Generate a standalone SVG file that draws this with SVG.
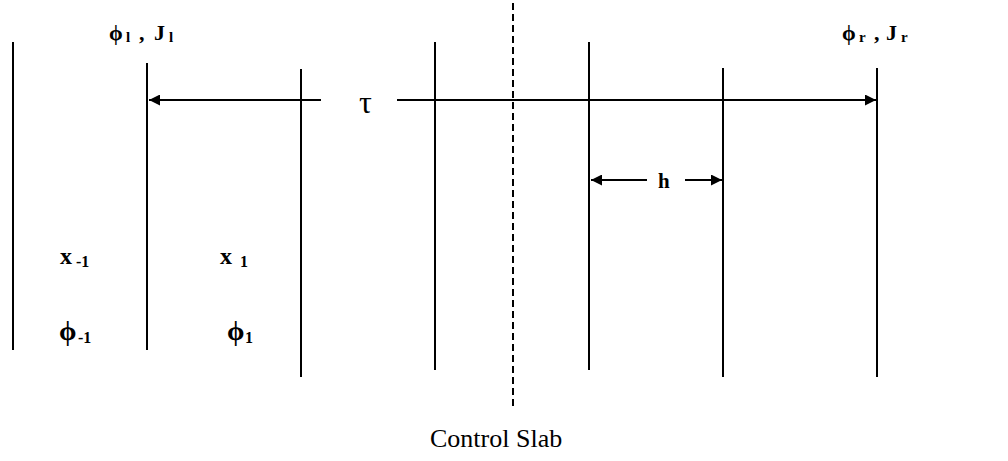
<svg xmlns="http://www.w3.org/2000/svg" width="1008" height="461" viewBox="0 0 1008 461">
<style>
.ln{stroke:#000;stroke-width:2;fill:none}
.ds{stroke:#000;stroke-width:2;stroke-dasharray:7,4;fill:none}
.t{font-family:"Liberation Serif","Times New Roman",serif;fill:#000}
.b{font-weight:bold}
.top{font-size:22px}
.sub{font-size:15px;font-weight:bold}
.lo{font-size:24px}
.phi{font-size:28px}
.sub2{font-size:16px;font-weight:bold}
</style>
<defs>
<marker id="ah" viewBox="0 0 11 11" refX="11" refY="5.5" markerWidth="11" markerHeight="11" markerUnits="userSpaceOnUse" orient="auto-start-reverse">
<path d="M0,0 L11,5.5 L0,11 z" fill="#000"/>
</marker>
</defs>
<g id="planes">
<line class="ln" x1="13" y1="42" x2="13" y2="350"/>
<line class="ln" x1="147" y1="63" x2="147" y2="350"/>
<line class="ln" x1="301" y1="69" x2="301" y2="377"/>
<line class="ln" x1="435" y1="42" x2="435" y2="370"/>
<line class="ln" x1="589" y1="42" x2="589" y2="370"/>
<line class="ln" x1="723" y1="68" x2="723" y2="377"/>
<line class="ln" x1="877" y1="68" x2="877" y2="377"/>
<line class="ds" x1="513" y1="3" x2="513" y2="408"/>
</g>
<g id="connectors">
<line class="ln" x1="321" y1="100" x2="149" y2="100" marker-end="url(#ah)"/>
<line class="ln" x1="397" y1="100" x2="876" y2="100" marker-end="url(#ah)"/>
<line class="ln" x1="647" y1="180" x2="591" y2="180" marker-end="url(#ah)"/>
<line class="ln" x1="685" y1="180" x2="722" y2="180" marker-end="url(#ah)"/>
</g>
<g id="labels">
<text class="t b top"><tspan x="109" y="40">ϕ</tspan><tspan class="sub" x="126" y="42">l</tspan><tspan x="139" y="40">,</tspan><tspan x="154" y="40">J</tspan><tspan class="sub" x="169" y="42">l</tspan></text>
<text class="t b top"><tspan x="842" y="40">ϕ</tspan><tspan class="sub" x="859" y="42">r</tspan><tspan x="874" y="40">,</tspan><tspan x="886" y="40">J</tspan><tspan class="sub" x="901" y="42">r</tspan></text>
<text class="t" x="359" y="113" font-size="32">τ</text>
<text class="t b" x="658" y="188" font-size="21">h</text>
<text class="t b lo"><tspan x="60" y="264">x</tspan><tspan class="sub2" x="76" y="267">-1</tspan></text>
<text class="t b lo"><tspan x="220" y="264">x</tspan><tspan class="sub2" x="240" y="267">1</tspan></text>
<text class="t b"><tspan class="phi" x="59" y="340">ϕ</tspan><tspan class="sub2" x="78" y="343">-1</tspan></text>
<text class="t b"><tspan class="phi" x="227" y="340">ϕ</tspan><tspan class="sub2" x="245" y="343">1</tspan></text>
<text class="t" x="430" y="447" font-size="26">Control Slab</text>
</g>
</svg>
